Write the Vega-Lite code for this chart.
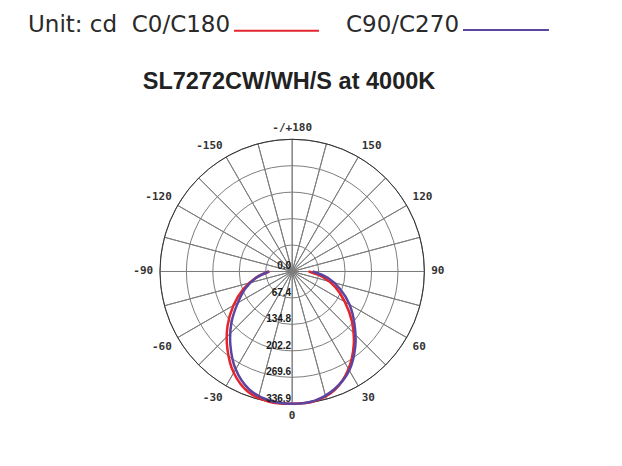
{
  "$schema": "https://vega.github.io/schema/vega-lite/v6.json",
  "width": 622,
  "height": 466,
  "autosize": "none",
  "padding": 0,
  "background": "white",
  "config": {"view": {"stroke": null}},
  "datasets": {
    "curves": [
      {"series": "C0/C180", "ang": -90, "cd": 58},
      {"series": "C0/C180", "ang": -80, "cd": 95},
      {"series": "C0/C180", "ang": -70, "cd": 133},
      {"series": "C0/C180", "ang": -60, "cd": 173},
      {"series": "C0/C180", "ang": -50, "cd": 215},
      {"series": "C0/C180", "ang": -40, "cd": 257},
      {"series": "C0/C180", "ang": -30, "cd": 298},
      {"series": "C0/C180", "ang": -20, "cd": 327},
      {"series": "C0/C180", "ang": -10, "cd": 337},
      {"series": "C0/C180", "ang": 0, "cd": 337},
      {"series": "C0/C180", "ang": 10, "cd": 335},
      {"series": "C0/C180", "ang": 20, "cd": 320},
      {"series": "C0/C180", "ang": 30, "cd": 287},
      {"series": "C0/C180", "ang": 40, "cd": 244},
      {"series": "C0/C180", "ang": 50, "cd": 199},
      {"series": "C0/C180", "ang": 60, "cd": 155},
      {"series": "C0/C180", "ang": 70, "cd": 117},
      {"series": "C0/C180", "ang": 80, "cd": 79},
      {"series": "C0/C180", "ang": 90, "cd": 42},
      {"series": "C90/C270", "ang": -90, "cd": 60},
      {"series": "C90/C270", "ang": -80, "cd": 93},
      {"series": "C90/C270", "ang": -70, "cd": 127},
      {"series": "C90/C270", "ang": -60, "cd": 160},
      {"series": "C90/C270", "ang": -50, "cd": 202},
      {"series": "C90/C270", "ang": -40, "cd": 245},
      {"series": "C90/C270", "ang": -30, "cd": 288},
      {"series": "C90/C270", "ang": -20, "cd": 320},
      {"series": "C90/C270", "ang": -10, "cd": 334},
      {"series": "C90/C270", "ang": 0, "cd": 337},
      {"series": "C90/C270", "ang": 10, "cd": 334},
      {"series": "C90/C270", "ang": 20, "cd": 318},
      {"series": "C90/C270", "ang": 30, "cd": 291},
      {"series": "C90/C270", "ang": 40, "cd": 250},
      {"series": "C90/C270", "ang": 50, "cd": 207},
      {"series": "C90/C270", "ang": 60, "cd": 169},
      {"series": "C90/C270", "ang": 70, "cd": 130},
      {"series": "C90/C270", "ang": 80, "cd": 92},
      {"series": "C90/C270", "ang": 90, "cd": 52}
    ],
    "rings": [{"r": 67.4}, {"r": 134.8}, {"r": 202.2}, {"r": 269.6}],
    "spokes": [
      {"a0": -180, "a1": -165}, {"a0": -165, "a1": -150}, {"a0": -150, "a1": -135},
      {"a0": -135, "a1": -120}, {"a0": -120, "a1": -105}, {"a0": -105, "a1": -90},
      {"a0": -90, "a1": -75}, {"a0": -75, "a1": -60}, {"a0": -60, "a1": -45},
      {"a0": -45, "a1": -30}, {"a0": -30, "a1": -15}, {"a0": -15, "a1": 0},
      {"a0": 0, "a1": 15}, {"a0": 15, "a1": 30}, {"a0": 30, "a1": 45},
      {"a0": 45, "a1": 60}, {"a0": 60, "a1": 75}, {"a0": 75, "a1": 90},
      {"a0": 90, "a1": 105}, {"a0": 105, "a1": 120}, {"a0": 120, "a1": 135},
      {"a0": 135, "a1": 150}, {"a0": 150, "a1": 165}, {"a0": 165, "a1": 180}
    ],
    "angleLabels": [
      {"a": 0, "label": "0"}, {"a": 30, "label": "30"}, {"a": 60, "label": "60"},
      {"a": 90, "label": "90"}, {"a": 120, "label": "120"}, {"a": 150, "label": "150"},
      {"a": 180, "label": "-/+180"}, {"a": -30, "label": "-30"}, {"a": -60, "label": "-60"},
      {"a": -90, "label": "-90"}, {"a": -120, "label": "-120"}, {"a": -150, "label": "-150"}
    ],
    "radLabels": [
      {"v": 0, "label": "0.0"}, {"v": 67.4, "label": "67.4"}, {"v": 134.8, "label": "134.8"},
      {"v": 202.2, "label": "202.2"}, {"v": 269.6, "label": "269.6"}, {"v": 336.9, "label": "336.9"}
    ],
    "one": [{"k": 1}]
  },
  "layer": [
    {
      "data": {"name": "spokes"},
      "mark": {"type": "arc", "fill": "white", "fillOpacity": 0, "stroke": "#7d7d7d", "strokeWidth": 1},
      "encoding": {
        "x": {"datum": 0, "type": "quantitative", "axis": null, "scale": {"domain": [-744.6, 840.5], "nice": false, "zero": false}},
        "y": {"datum": 0, "type": "quantitative", "axis": null, "scale": {"domain": [-495.7, 691.9], "nice": false, "zero": false}},
        "theta": {"field": "a0", "type": "quantitative", "stack": null, "scale": {"domain": [180, -180], "range": [0, 6.283185307179586], "zero": false, "nice": false}},
        "theta2": {"field": "a1"},
        "radius": {"datum": 336.9, "type": "quantitative", "stack": null, "scale": {"type": "linear", "domain": [0, 336.9], "range": [0, 132.2], "zero": true, "nice": false}}
      }
    },
    {
      "data": {"name": "rings"},
      "mark": {"type": "arc", "fill": "white", "fillOpacity": 0, "stroke": "#7d7d7d", "strokeWidth": 1},
      "encoding": {
        "x": {"datum": 0, "type": "quantitative"},
        "y": {"datum": 0, "type": "quantitative"},
        "theta": {"datum": 180, "type": "quantitative", "stack": null},
        "theta2": {"datum": -180},
        "radius": {"field": "r", "type": "quantitative", "stack": null}
      }
    },
    {
      "data": {"name": "one"},
      "mark": {"type": "arc", "fill": "white", "fillOpacity": 0, "stroke": "#333333", "strokeWidth": 1},
      "encoding": {
        "x": {"datum": 0, "type": "quantitative"},
        "y": {"datum": 0, "type": "quantitative"},
        "theta": {"datum": 180, "type": "quantitative", "stack": null},
        "theta2": {"datum": -180},
        "radius": {"datum": 336.9, "type": "quantitative", "stack": null}
      }
    },
    {
      "data": {"name": "curves"},
      "transform": [
        {"calculate": "datum.cd * sin(datum.ang * PI / 180)", "as": "cx"},
        {"calculate": "0 - datum.cd * cos(datum.ang * PI / 180)", "as": "cy"}
      ],
      "mark": {"type": "line", "strokeWidth": 2.5, "interpolate": "catmull-rom"},
      "encoding": {
        "x": {"field": "cx", "type": "quantitative"},
        "y": {"field": "cy", "type": "quantitative"},
        "color": {"field": "series", "type": "nominal", "legend": null, "scale": {"domain": ["C0/C180", "C90/C270"], "range": ["#e3262d", "#5b45a0"]}},
        "order": {"field": "ang", "type": "quantitative"}
      }
    },
    {
      "data": {"name": "radLabels"},
      "mark": {"type": "text", "align": "right", "baseline": "alphabetic", "dx": -1, "dy": -2, "font": "Liberation Sans", "fontWeight": "bold", "fontSize": 10, "fill": "#1a1a1a"},
      "encoding": {
        "x": {"datum": 0, "type": "quantitative"},
        "y": {"datum": 0, "type": "quantitative"},
        "theta": {"datum": 0, "type": "quantitative"},
        "radius": {"field": "v", "type": "quantitative"},
        "text": {"field": "label"}
      }
    },
    {
      "data": {"name": "angleLabels"},
      "transform": [{"filter": "datum.a == 0"}],
      "mark": {"type": "text", "align": "center", "baseline": "top", "font": "DejaVu Sans Mono", "fontWeight": "bold", "fontSize": 11, "fill": "#333333"},
      "encoding": {"x": {"datum": 0, "type": "quantitative"}, "y": {"datum": 0, "type": "quantitative"}, "theta": {"field": "a", "type": "quantitative"}, "radius": {"datum": 354.2, "type": "quantitative"}, "text": {"field": "label"}}
    },
    {
      "data": {"name": "angleLabels"},
      "transform": [{"filter": "datum.a == 180"}],
      "mark": {"type": "text", "align": "center", "baseline": "bottom", "font": "DejaVu Sans Mono", "fontWeight": "bold", "fontSize": 11, "fill": "#333333"},
      "encoding": {"x": {"datum": 0, "type": "quantitative"}, "y": {"datum": 0, "type": "quantitative"}, "theta": {"field": "a", "type": "quantitative"}, "radius": {"datum": 354.2, "type": "quantitative"}, "text": {"field": "label"}}
    },
    {
      "data": {"name": "angleLabels"},
      "transform": [{"filter": "datum.a > 0 && datum.a < 90"}],
      "mark": {"type": "text", "align": "left", "baseline": "top", "font": "DejaVu Sans Mono", "fontWeight": "bold", "fontSize": 11, "fill": "#333333"},
      "encoding": {"x": {"datum": 0, "type": "quantitative"}, "y": {"datum": 0, "type": "quantitative"}, "theta": {"field": "a", "type": "quantitative"}, "radius": {"datum": 354.2, "type": "quantitative"}, "text": {"field": "label"}}
    },
    {
      "data": {"name": "angleLabels"},
      "transform": [{"filter": "datum.a == 90"}],
      "mark": {"type": "text", "align": "left", "baseline": "middle", "font": "DejaVu Sans Mono", "fontWeight": "bold", "fontSize": 11, "fill": "#333333"},
      "encoding": {"x": {"datum": 0, "type": "quantitative"}, "y": {"datum": 0, "type": "quantitative"}, "theta": {"field": "a", "type": "quantitative"}, "radius": {"datum": 354.2, "type": "quantitative"}, "text": {"field": "label"}}
    },
    {
      "data": {"name": "angleLabels"},
      "transform": [{"filter": "datum.a > 90 && datum.a < 180"}],
      "mark": {"type": "text", "align": "left", "baseline": "bottom", "font": "DejaVu Sans Mono", "fontWeight": "bold", "fontSize": 11, "fill": "#333333"},
      "encoding": {"x": {"datum": 0, "type": "quantitative"}, "y": {"datum": 0, "type": "quantitative"}, "theta": {"field": "a", "type": "quantitative"}, "radius": {"datum": 354.2, "type": "quantitative"}, "text": {"field": "label"}}
    },
    {
      "data": {"name": "angleLabels"},
      "transform": [{"filter": "datum.a < 0 && datum.a > -90"}],
      "mark": {"type": "text", "align": "right", "baseline": "top", "font": "DejaVu Sans Mono", "fontWeight": "bold", "fontSize": 11, "fill": "#333333"},
      "encoding": {"x": {"datum": 0, "type": "quantitative"}, "y": {"datum": 0, "type": "quantitative"}, "theta": {"field": "a", "type": "quantitative"}, "radius": {"datum": 354.2, "type": "quantitative"}, "text": {"field": "label"}}
    },
    {
      "data": {"name": "angleLabels"},
      "transform": [{"filter": "datum.a == -90"}],
      "mark": {"type": "text", "align": "right", "baseline": "middle", "font": "DejaVu Sans Mono", "fontWeight": "bold", "fontSize": 11, "fill": "#333333"},
      "encoding": {"x": {"datum": 0, "type": "quantitative"}, "y": {"datum": 0, "type": "quantitative"}, "theta": {"field": "a", "type": "quantitative"}, "radius": {"datum": 354.2, "type": "quantitative"}, "text": {"field": "label"}}
    },
    {
      "data": {"name": "angleLabels"},
      "transform": [{"filter": "datum.a < -90"}],
      "mark": {"type": "text", "align": "right", "baseline": "bottom", "font": "DejaVu Sans Mono", "fontWeight": "bold", "fontSize": 11, "fill": "#333333"},
      "encoding": {"x": {"datum": 0, "type": "quantitative"}, "y": {"datum": 0, "type": "quantitative"}, "theta": {"field": "a", "type": "quantitative"}, "radius": {"datum": 354.2, "type": "quantitative"}, "text": {"field": "label"}}
    },
    {
      "data": {"name": "one"},
      "mark": {"type": "text", "text": "Unit: cd\u00a0\u00a0C0/C180", "align": "left", "baseline": "alphabetic", "font": "DejaVu Sans", "fontSize": 23, "fill": "#2a2a2a"},
      "encoding": {"x": {"datum": -673.3, "type": "quantitative"}, "y": {"datum": 610.3, "type": "quantitative"}}
    },
    {
      "data": {"name": "one"},
      "mark": {"type": "text", "text": "C90/C270", "align": "left", "baseline": "alphabetic", "font": "DejaVu Sans", "fontSize": 23, "fill": "#2a2a2a"},
      "encoding": {"x": {"datum": 137.1, "type": "quantitative"}, "y": {"datum": 610.3, "type": "quantitative"}}
    },
    {
      "data": {"name": "one"},
      "mark": {"type": "rule", "stroke": "#e3262d", "strokeWidth": 2},
      "encoding": {"x": {"datum": -148.3, "type": "quantitative"}, "x2": {"datum": 68.3}, "y": {"datum": 613.7, "type": "quantitative"}}
    },
    {
      "data": {"name": "one"},
      "mark": {"type": "rule", "stroke": "#5b45a0", "strokeWidth": 2},
      "encoding": {"x": {"datum": 435.3, "type": "quantitative"}, "x2": {"datum": 654.4}, "y": {"datum": 615.5, "type": "quantitative"}}
    },
    {
      "data": {"name": "one"},
      "mark": {"type": "text", "text": "SL7272CW/WH/S at 4000K", "align": "center", "baseline": "alphabetic", "font": "Liberation Sans", "fontWeight": "bold", "fontSize": 23.5, "fill": "#222222"},
      "encoding": {"x": {"datum": -8.2, "type": "quantitative"}, "y": {"datum": 464.3, "type": "quantitative"}}
    }
  ]
}
